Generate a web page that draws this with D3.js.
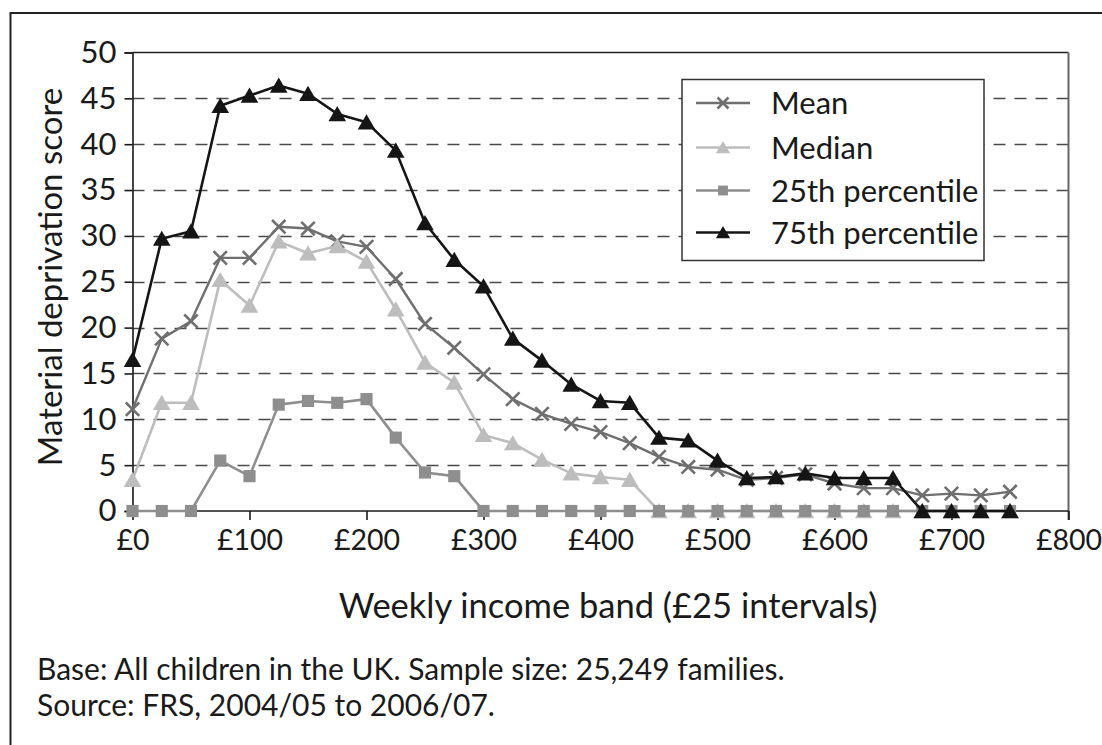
<!DOCTYPE html>
<html>
<head>
<meta charset="utf-8">
<script src="https://cdn.jsdelivr.net/npm/d3@7"></script>
<style>
  html, body { margin: 0; padding: 0; background: #fff; }
  svg { display: block; font-family: Lato, "Open Sans", sans-serif; }
</style>
</head>
<body>
<svg id="chart" width="1102" height="745"></svg>
<script>
// Weekly income bands (£25 steps)
const incomeBands = d3.range(0, 751, 25);

const meanScores = [11.1, 18.8, 20.7, 27.6, 27.6, 31.0, 30.8, 29.4, 28.8, 25.3, 20.4,
  17.8, 14.9, 12.2, 10.6, 9.5, 8.6, 7.4, 5.9, 4.8, 4.5, 3.4,
  3.6, 4.0, 3.0, 2.5, 2.5, 1.7, 1.9, 1.7, 2.1];
const medianScores = [3.4, 11.8, 11.8, 25.2, 22.4, 29.4, 28.1, 28.9, 27.2, 22.0, 16.2,
  14.0, 8.3, 7.4, 5.6, 4.1, 3.7, 3.4, 0, 0, 0, 0,
  0, 0, 0, 0, 0, 0, 0, 0, 0];
const p25Scores = [0, 0, 0, 5.5, 3.8, 11.6, 12.0, 11.8, 12.2, 8.0, 4.2,
  3.8, 0, 0, 0, 0, 0, 0, 0, 0, 0, 0,
  0, 0, 0, 0, 0, 0, 0, 0, 0];
const p75Scores = [16.5, 29.7, 30.5, 44.2, 45.3, 46.4, 45.5, 43.3, 42.4, 39.3, 31.4,
  27.4, 24.5, 18.8, 16.4, 13.8, 12.0, 11.8, 8.0, 7.7, 5.5, 3.6,
  3.7, 4.1, 3.6, 3.6, 3.6, 0, 0, 0, 0];

const xTicks = [0, 100, 200, 300, 400, 500, 600, 700, 800];
const yTicks = [0, 5, 10, 15, 20, 25, 30, 35, 40, 45, 50];

const seriesNames = ["Mean", "Median", "25th percentile", "75th percentile"];
const seriesValues = [meanScores, medianScores, p25Scores, p75Scores];
const seriesColors = ["#6f6f6f", "#bdbdbd", "#8e8e8e", "#151515"];
const seriesMarkers = ["cross", "triangle", "square", "triangle"];

const svg = d3.select("#chart");
const FS = 31;
const INK = "#1a1a1a";

// outer frame: top and left rules
svg.append("line").attr("x1", 10.5).attr("x2", 1102).attr("y1", 13).attr("y2", 13)
  .attr("stroke", "#222").attr("stroke-width", 2);
svg.append("line").attr("x1", 10.5).attr("x2", 10.5).attr("y1", 12).attr("y2", 745)
  .attr("stroke", "#222").attr("stroke-width", 2);

const plot = { left: 132.5, right: 1068.5, top: 52.5, bottom: 511 };
const x = d3.scaleLinear().domain([0, 800]).range([plot.left, plot.right]);
const y = d3.scaleLinear().domain([0, 50]).range([plot.bottom, plot.top]);

// dashed horizontal gridlines
svg.append("g").selectAll("line")
  .data(yTicks.filter(v => v > 0 && v < 50))
  .join("line")
  .attr("x1", plot.left).attr("x2", plot.right)
  .attr("y1", d => Math.round(y(d)) + 0.5).attr("y2", d => Math.round(y(d)) + 0.5)
  .attr("stroke", "#4a4a4a").attr("stroke-width", 1.6)
  .attr("stroke-dasharray", "12,9");

// plot frame: top and right
svg.append("line").attr("x1", plot.left).attr("x2", plot.right)
  .attr("y1", plot.top).attr("y2", plot.top).attr("stroke", "#222").attr("stroke-width", 1.6);
svg.append("line").attr("x1", plot.right).attr("x2", plot.right)
  .attr("y1", plot.top).attr("y2", plot.bottom + 9).attr("stroke", "#666").attr("stroke-width", 2);

// axes
const yAxis = d3.axisLeft(y).tickValues(yTicks).tickSize(8).tickPadding(8).tickFormat(d3.format("d"));
const gy = svg.append("g").attr("transform", `translate(${plot.left},0)`).call(yAxis);
const xAxis = d3.axisBottom(x).tickValues(xTicks).tickSize(9).tickPadding(10).tickFormat(d => "£" + d);
const gx = svg.append("g").attr("transform", `translate(0,${plot.bottom})`).call(xAxis);
[gx, gy].forEach(g => {
  g.select(".domain").attr("stroke", INK).attr("stroke-width", 1.6);
  g.selectAll(".tick line").attr("stroke", INK).attr("stroke-width", 1.6);
  g.selectAll(".tick text").attr("fill", INK).style("font-size", FS + "px")
    .style("font-family", 'Lato, "Open Sans", sans-serif');
});
gx.selectAll(".tick text").style("font-size", "28.5px");
gx.select(".domain").attr("d", `M${plot.left},0H${plot.right}`);

// marker drawing
function marker(g, type, color, s) {
  if (type === "triangle") {
    g.append("path").attr("d", `M0,${-s * 0.5}L${s * 0.55},${s * 0.45}L${-s * 0.55},${s * 0.45}Z`)
      .attr("fill", color);
  } else if (type === "square") {
    const h = s * 0.38;
    g.append("rect").attr("x", -h).attr("y", -h).attr("width", 2 * h).attr("height", 2 * h)
      .attr("fill", color);
  } else {
    const h = s * 0.42;
    g.append("path").attr("d", `M${-h},${-h}L${h},${h}M${-h},${h}L${h},${-h}`)
      .attr("stroke", color).attr("stroke-width", 2.6).attr("fill", "none");
  }
}

const line = d3.line().x(d => x(d.band)).y(d => y(d.value));
seriesNames.forEach((name, i) => {
  const pts = incomeBands.map((b, j) => ({ band: b, value: seriesValues[i][j] }));
  const g = svg.append("g");
  g.append("path").datum(pts).attr("d", line)
    .attr("fill", "none").attr("stroke", seriesColors[i])
    .attr("stroke-width", i === 0 ? 2.4 : 2.6).attr("stroke-linejoin", "round");
  pts.forEach(p => {
    const m = g.append("g").attr("transform", `translate(${x(p.band)},${y(p.value)})`);
    marker(m, seriesMarkers[i], seriesColors[i], 16);
  });
});

// legend
const lg = svg.append("g");
lg.append("rect").attr("x", 682).attr("y", 79.5).attr("width", 302).attr("height", 181)
  .attr("fill", "#fff").attr("stroke", "#333").attr("stroke-width", 1.5);
const rowY = [103, 147.5, 190.5, 232.5];
seriesNames.forEach((name, i) => {
  const r = lg.append("g").attr("transform", `translate(0,${rowY[i]})`);
  r.append("line").attr("x1", 696).attr("x2", 750).attr("y1", 0).attr("y2", 0)
    .attr("stroke", seriesColors[i]).attr("stroke-width", 2.6);
  const m = r.append("g").attr("transform", "translate(723,0)");
  marker(m, seriesMarkers[i], seriesColors[i], 13);
  r.append("text").attr("x", 771).attr("y", 0).attr("dy", "0.36em")
    .attr("fill", INK).style("font-size", FS + "px").text(name);
});

// axis titles
svg.append("text").attr("transform", `translate(62,277) rotate(-90)`)
  .attr("text-anchor", "middle").attr("fill", INK).style("font-size", "33px")
  .text("Material deprivation score");
svg.append("text").attr("x", 608).attr("y", 618).attr("text-anchor", "middle")
  .attr("fill", INK).style("font-size", "34.5px")
  .text("Weekly income band (£25 intervals)");

// footnotes
const noteLines = [
  "Base: All children in the UK. Sample size: 25,249 families.",
  "Source: FRS, 2004/05 to 2006/07."
];
svg.append("g").selectAll("text").data(noteLines).join("text")
  .attr("x", 37).attr("y", (d, i) => 680 + i * 36)
  .attr("fill", INK).style("font-size", "30px")
  .text(d => d);
</script>
</body>
</html>
